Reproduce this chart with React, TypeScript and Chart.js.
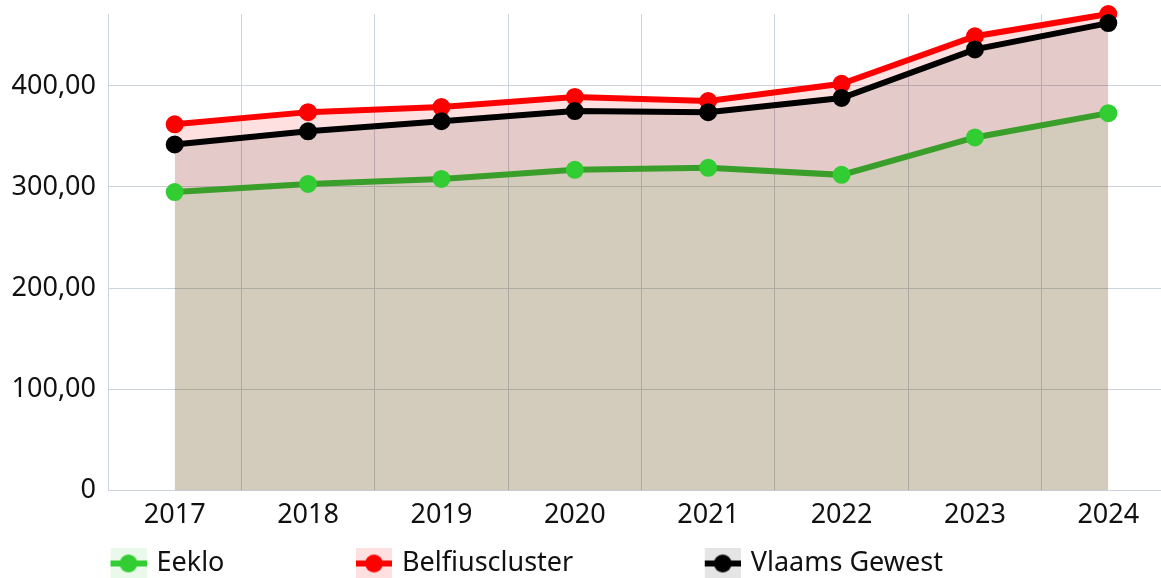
import React, { useEffect, useRef } from 'react';
import { Chart, registerables } from 'chart.js';

Chart.register(...registerables);

// ---- data ----
const years = ['2017', '2018', '2019', '2020', '2021', '2022', '2023', '2024'];
const eeklo = [295, 303, 308, 317, 319, 312, 349, 373];
const belfius = [362, 374, 379, 389, 385, 402, 449, 471];
const vlaams = [342, 355, 365, 375, 374, 388, 436, 462];
const seriesNames = ['Eeklo', 'Belfiuscluster', 'Vlaams Gewest'];
const yTickValues = [0, 100, 200, 300, 400];

// ---- styling ----
const FONT = '"Noto Sans", "DejaVu Sans", sans-serif';
const FONT_SIZE = 27;
const GRID = '#cbd3df';
const CANVAS_W = 1206;
const CANVAS_H = 587;
const SHIFT_X = -21;

const styles = [
  { line: '#3a9f2a', point: '#32cd32', fill: 'rgba(50,205,50,0.1)' },
  { line: '#ff0000', point: '#ff0000', fill: 'rgba(255,0,0,0.12)' },
  { line: '#000000', point: '#000000', fill: 'rgba(0,0,0,0.1)' },
];

const LEGEND_P = 10;
const POINT_STYLE_W = 154;
const ICON_W = POINT_STYLE_W + 7;
const ICON_H = 32;

function makeIcon(bg: string, color: string): HTMLCanvasElement {
  const c = document.createElement('canvas');
  c.width = ICON_W;
  c.height = ICON_H;
  const ctx = c.getContext('2d')!;
  const x0 = ICON_W - 36;
  ctx.fillStyle = bg;
  ctx.fillRect(x0, 0, 36, ICON_H);
  ctx.fillStyle = color;
  ctx.fillRect(x0, ICON_H / 2 - 3, 36, 6);
  ctx.beginPath();
  ctx.arc(x0 + 18, ICON_H / 2, 9, 0, Math.PI * 2);
  ctx.fill();
  return c;
}

const fmt = (v: number) => (v === 0 ? '0' : v.toFixed(2).replace('.', ','));

export default function App() {
  const ref = useRef<HTMLCanvasElement | null>(null);

  useEffect(() => {
    if (!ref.current) return;
    const icons = styles.map((s) => makeIcon(s.fill, s.point));
    const values = [eeklo, belfius, vlaams];
    const orders = [0, 2, 1];
    const yMax = Math.max(...eeklo, ...belfius, ...vlaams);

    const chart = new Chart(ref.current, {
      type: 'line',
      data: {
        labels: years,
        datasets: values.map((data, i) => ({
          label: seriesNames[i],
          data,
          order: orders[i],
          borderColor: styles[i].line,
          backgroundColor: styles[i].fill,
          borderWidth: 6,
          fill: 'origin',
          pointRadius: 8,
          pointHoverRadius: 8,
          pointBorderWidth: 2,
          pointBackgroundColor: styles[i].point,
          pointBorderColor: styles[i].point,
          tension: 0,
          clip: false as any,
        })),
      },
      options: {
        responsive: false,
        animation: false,
        layout: { padding: { top: 0, right: 1, left: 0, bottom: 0 } },
        scales: {
          x: {
            type: 'category',
            offset: true,
            grid: { offset: true, color: GRID, drawTicks: false, lineWidth: 1 },
            border: { color: GRID },
            ticks: { color: '#111', font: { family: FONT, size: FONT_SIZE }, padding: 9, maxRotation: 0 },
            afterFit: (s: any) => { s.height = 49.5; },
          },
          y: {
            type: 'linear',
            min: 0,
            max: yMax,
            grid: { color: GRID, drawTicks: false },
            border: { color: GRID },
            afterBuildTicks: (s: any) => { s.ticks = yTickValues.map((v) => ({ value: v })); },
            ticks: {
              color: '#111',
              font: { family: FONT, size: FONT_SIZE },
              padding: 12,
              callback: (v: any) => fmt(Number(v)),
            },
            afterFit: (s: any) => { s.width = 129; s.paddingTop = 14; },
          },
        },
        plugins: {
          legend: {
            position: 'bottom',
            align: 'start',
            labels: {
              usePointStyle: true,
              pointStyleWidth: POINT_STYLE_W,
              padding: LEGEND_P,
              color: '#111',
              font: { family: FONT, size: FONT_SIZE },
              sort: (a: any, b: any) => a.datasetIndex - b.datasetIndex,
              generateLabels: (ch: any) => {
                const items = Chart.defaults.plugins.legend.labels.generateLabels(ch);
                return items.map((it: any, i: number) => ({ ...it, pointStyle: icons[it.datasetIndex ?? i] }));
              },
            },
          },
          tooltip: { enabled: false },
        },
      } as any,
    });
    return () => chart.destroy();
  }, []);

  return (
    <div style={{ position: 'fixed', left: 0, top: 0, width: 1161, height: 578, overflow: 'hidden', background: '#fff' }}>
      <div style={{ position: 'absolute', left: SHIFT_X, top: 0, width: CANVAS_W, height: CANVAS_H }}>
        <canvas ref={ref} width={CANVAS_W} height={CANVAS_H} style={{ display: 'block' }} />
      </div>
    </div>
  );
}
